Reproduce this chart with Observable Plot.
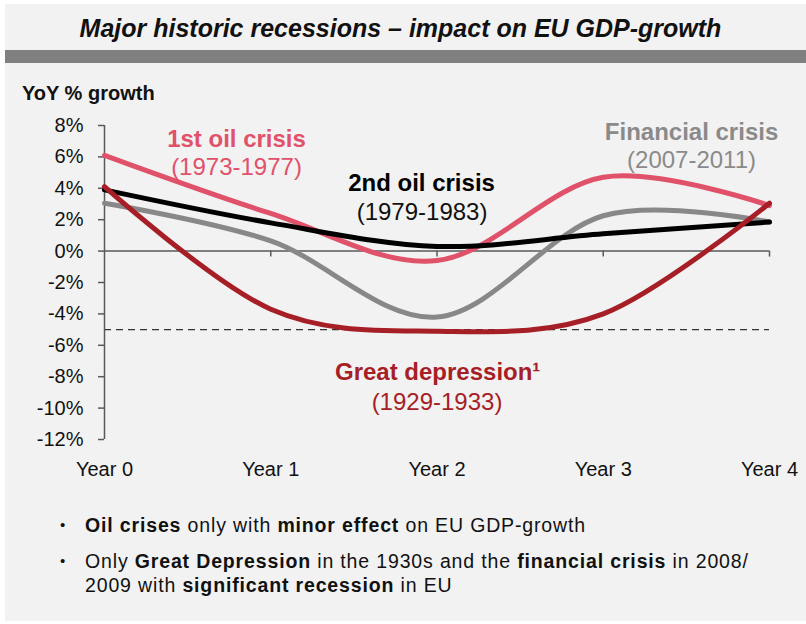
<!DOCTYPE html>
<html><head><meta charset="utf-8">
<script src="https://cdn.jsdelivr.net/npm/d3@7"></script>
<script src="https://cdn.jsdelivr.net/npm/@observablehq/plot@0.6"></script>
<style>
html,body{margin:0;padding:0;background:#fff;}
body{width:806px;height:624px;position:relative;overflow:hidden;font-family:"Liberation Sans",Arial,sans-serif;color:#111;}
#panel{position:absolute;left:5px;top:4px;width:801px;height:617px;background:#f2f2f2;}
#title{position:absolute;left:0;top:14px;width:801px;text-align:center;font-style:italic;font-weight:bold;font-size:25px;line-height:28px;color:#111;}
#bar{position:absolute;left:5px;top:50px;width:801px;height:13px;background:#808080;}
#ylab{position:absolute;left:22px;top:81px;font-weight:bold;font-size:20px;line-height:24px;}
#chart{position:absolute;left:0;top:100px;}
.b{position:absolute;left:85px;font-size:19.5px;line-height:24.6px;letter-spacing:0.85px;color:#111;white-space:nowrap;}
.dot{position:absolute;left:-25px;font-size:15px;letter-spacing:0;}
</style>
</head><body>
<div id="panel"></div>
<div id="title">Major historic recessions – impact on EU GDP-growth</div>
<div id="bar"></div>
<div id="ylab">YoY % growth</div>
<div id="chart"></div>
<div class="b" style="top:512.6px"><span class="dot">•</span><b>Oil crises</b> only with <b>minor effect</b> on EU GDP-growth</div>
<div class="b" style="top:548.6px"><span class="dot">•</span>Only <b>Great Depression</b> in the 1930s and the <b>financial crisis</b> in 2008/<br>2009 with <b>significant recession</b> in EU</div>
<script>
const years = ["Year 0", "Year 1", "Year 2", "Year 3", "Year 4"];
const oil1 = [6.1, 2.4, -0.6, 4.7, 2.9];
const oil2 = [3.9, 1.8, 0.3, 1.1, 1.85];
const financial = [3.05, 0.65, -4.2, 2.25, 1.85];
const depression = [4.1, -3.7, -5.1, -4.0, 3.05];
const yTicks = [8, 6, 4, 2, 0, -2, -4, -6, -8, -10, -12];
const threshold = -5;

const pink = "#e0516a", black = "#000000", gray = "#888888", red = "#a61e26";
const series = [
  {name: "financial", values: financial, color: gray},
  {name: "oil1", values: oil1, color: pink},
  {name: "oil2", values: oil2, color: black},
  {name: "depression", values: depression, color: red}
];
const rows = series.flatMap(s => s.values.map((v, i) => ({series: s.name, i, v, color: s.color})));

const titleLabels = [
  {x: 0.794, y: 6.62, text: "1st oil crisis", color: pink},
  {x: 1.907, y: 3.80, text: "2nd oil crisis", color: "#000"},
  {x: 3.531, y: 7.10, text: "Financial crisis", color: "#8a8a8a"},
  {x: 2.004, y: -8.19, text: "Great depression¹", color: red}
];
const periodLabels = [
  {x: 0.794, y: 4.87, text: "(1973-1977)", color: pink},
  {x: 1.910, y: 1.96, text: "(1979-1983)", color: "#111"},
  {x: 3.531, y: 5.29, text: "(2007-2011)", color: "#8a8a8a"},
  {x: 2.000, y: -10.15, text: "(1929-1933)", color: red}
];

const axisColor = "#595959";
const chart = Plot.plot({
  width: 806,
  height: 390,
  marginTop: 25,
  marginBottom: 51,
  marginLeft: 104,
  marginRight: 37,
  style: {fontFamily: "'Liberation Sans', Arial, sans-serif", background: "transparent", color: "#111"},
  x: {domain: [0, 4]},
  y: {domain: [-12, 8]},
  color: {type: "identity"},
  marks: [
    Plot.axisY({ticks: yTicks, tickFormat: d => d + "%", tickSize: 6, tickPadding: 15, fontSize: 20, stroke: axisColor, strokeWidth: 1.5, fill: "#111"}),
    Plot.axisX({ticks: [0, 1, 2, 3, 4], tickFormat: i => years[i], tickSize: 0, tickPadding: 22, fontSize: 20, fill: "#111"}),
    Plot.ruleY([threshold], {stroke: "#333", strokeWidth: 1.2, strokeDasharray: "7,5"}),
    Plot.ruleY([0], {stroke: axisColor, strokeWidth: 1.5}),
    Plot.ruleX([1, 2, 3, 4], {y1: 0, y2: -0.38, stroke: axisColor, strokeWidth: 1.5}),
    Plot.ruleX([0], {y1: -12, y2: 8, stroke: axisColor, strokeWidth: 1.5}),
    ...series.map(s => Plot.line(rows.filter(r => r.series === s.name), {x: "i", y: "v", stroke: s.color, strokeWidth: 5, curve: "cardinal", tension: 0})),
    Plot.text(titleLabels, {x: "x", y: "y", text: "text", fill: "color", fontSize: 24, fontWeight: "bold", lineAnchor: "bottom", textAnchor: "middle"}),
    Plot.text(periodLabels, {x: "x", y: "y", text: "text", fill: "color", fontSize: 24, lineAnchor: "bottom", textAnchor: "middle"})
  ]
});
document.getElementById("chart").appendChild(chart);
</script>
</body></html>
